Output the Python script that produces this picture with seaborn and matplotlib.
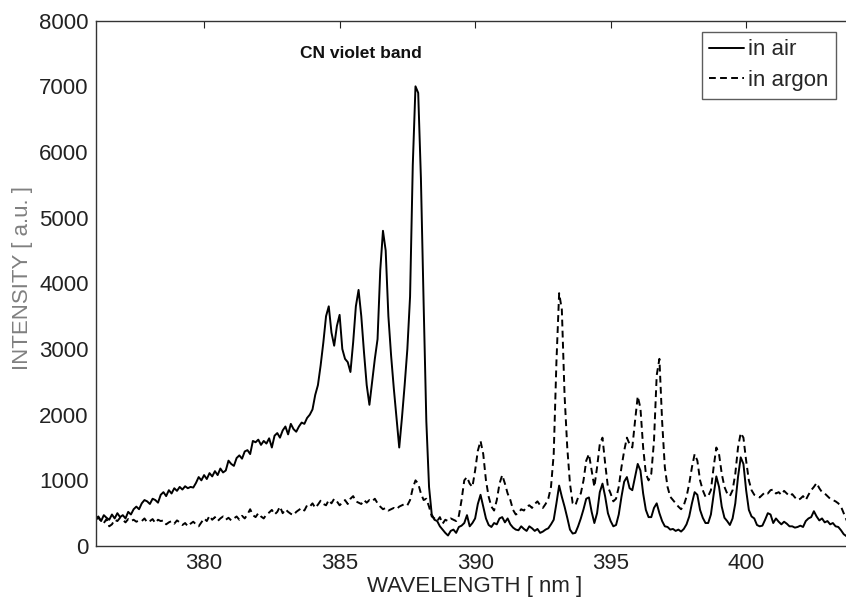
import numpy as np
import pandas as pd
import matplotlib
matplotlib.use("Agg")
import matplotlib.pyplot as plt
import seaborn as sns

# ---- data ----
wl_start = 376.0
wl_step = 0.1

air = [
    420, 450, 380, 470, 430, 400, 480, 420, 500, 440,        # 376
    470, 420, 520, 480, 560, 600, 560, 650, 700, 680,        # 377
    640, 720, 700, 660, 780, 820, 760, 850, 800, 880,        # 378
    840, 900, 860, 910, 880, 900, 890, 960, 1050, 1000,      # 379
    1080, 1020, 1110, 1060, 1140, 1080, 1180, 1120, 1150, 1300,  # 380
    1250, 1220, 1340, 1380, 1330, 1440, 1460, 1400, 1600, 1580,  # 381
    1620, 1540, 1600, 1560, 1640, 1500, 1680, 1720, 1650, 1760,  # 382
    1820, 1700, 1860, 1780, 1740, 1820, 1880, 1860, 1950, 2000,  # 383
    2080, 2300, 2450, 2750, 3100, 3500, 3650, 3250, 3050, 3350,  # 384
    3520, 3000, 2850, 2800, 2650, 3100, 3650, 3900, 3500, 2950,  # 385
    2450, 2150, 2500, 2850, 3150, 4200, 4800, 4500, 3500, 2900,  # 386
    2400, 1950, 1500, 1950, 2450, 3000, 3800, 5800, 7000, 6900,  # 387
    5600, 3700, 1900, 900, 480, 400, 380, 300, 250, 200,     # 388
    160, 230, 250, 200, 290, 310, 350, 470, 300, 350,        # 389
    420, 640, 780, 600, 420, 320, 290, 350, 330, 420,        # 390
    440, 360, 420, 330, 280, 250, 240, 300, 260, 230,        # 391
    300, 270, 230, 260, 200, 220, 250, 270, 330, 400,        # 392
    650, 920, 750, 600, 430, 250, 190, 200, 300, 420,        # 393
    560, 720, 740, 520, 350, 500, 820, 950, 750, 500,        # 394
    380, 300, 320, 480, 750, 980, 1050, 880, 850, 1050,      # 395
    1250, 1150, 800, 550, 440, 440, 580, 650, 500, 380,      # 396
    300, 290, 250, 260, 230, 250, 220, 260, 330, 450,        # 397
    650, 820, 780, 550, 430, 350, 350, 480, 780, 1060,       # 398
    900, 600, 430, 380, 320, 420, 650, 1050, 1350, 1250,     # 399
    850, 550, 450, 420, 320, 300, 310, 400, 500, 480,        # 400
    350, 420, 370, 330, 370, 340, 300, 300, 280, 290,        # 401
    310, 290, 380, 420, 440, 530, 450, 390, 420, 360,        # 402
    380, 330, 350, 300, 290, 240, 180, 150, 130,             # 403
]

argon = [
    400, 430, 380, 350, 410, 300, 330, 400, 380, 430,        # 376
    400, 360, 410, 380, 400, 370, 390, 380, 420, 360,        # 377
    380, 410, 350, 400, 380, 390, 330, 360, 380, 340,        # 378
    390, 360, 320, 350, 300, 340, 370, 330, 300, 360,        # 379
    420, 380, 460, 400, 440, 380, 420, 450, 400, 430,        # 380
    390, 420, 450, 400, 460, 420, 480, 560, 470, 440,        # 381
    500, 450, 420, 480, 510, 550, 480, 520, 600, 500,        # 382
    560, 520, 490, 470, 520, 550, 580, 540, 620, 600,        # 383
    650, 580, 630, 690, 640, 620, 700, 650, 720, 680,        # 384
    620, 660, 700, 640, 720, 760, 680, 660, 640, 700,        # 385
    660, 700, 680, 720, 650, 600, 560, 580, 540, 560,        # 386
    580, 560, 600, 620, 640, 620, 700, 880, 1000, 950,       # 387
    800, 700, 720, 600, 450, 420, 380, 440, 340, 400,        # 388
    380, 420, 400, 380, 460, 700, 1000, 1050, 950, 900,      # 389
    1150, 1450, 1600, 1400, 1000, 750, 600, 540, 700, 950,   # 390
    1080, 950, 800, 700, 550, 480, 500, 560, 540, 600,       # 391
    620, 580, 640, 680, 620, 580, 640, 720, 900, 1400,       # 392
    2800, 3850, 3600, 2300, 1500, 950, 650, 620, 740, 800,   # 393
    1000, 1300, 1400, 1150, 900, 1200, 1550, 1650, 1250, 900,  # 394
    800, 680, 720, 900, 1200, 1450, 1650, 1550, 1500, 1900,  # 395
    2280, 2100, 1500, 1100, 1000, 1100, 1600, 2600, 2850, 1900,  # 396
    1200, 900, 750, 700, 650, 600, 560, 620, 750, 950,       # 397
    1200, 1400, 1300, 1000, 850, 750, 760, 850, 1200, 1500,  # 398
    1400, 1100, 900, 800, 760, 850, 1100, 1500, 1720, 1650,  # 399
    1300, 1000, 850, 780, 760, 740, 780, 820, 800, 850,      # 400
    860, 800, 820, 780, 840, 800, 760, 790, 740, 700,        # 401
    720, 760, 700, 780, 850, 900, 960, 880, 820, 800,        # 402
    760, 720, 700, 680, 650, 600, 500, 400, 300,             # 403
]

series_names = ["in air", "in argon"]
xticks = [380, 385, 390, 395, 400]
yticks = [0, 1000, 2000, 3000, 4000, 5000, 6000, 7000, 8000]
annotation = "CN violet band"

wavelength = np.round(wl_start + wl_step * np.arange(len(air)), 2)

df = pd.DataFrame({
    "wavelength": np.concatenate([wavelength, wavelength]),
    "intensity": np.concatenate([air, argon]),
    "series": [series_names[0]] * len(air) + [series_names[1]] * len(argon),
})

# ---- style ----
sns.set_style("white")
plt.rcParams["font.family"] = ["Liberation Sans", "DejaVu Sans"]

fig = plt.figure(figsize=(8.46, 5.97), dpi=100)
ax = fig.add_axes([0.1131, 0.0854, 0.897, 0.880])

sns.lineplot(
    data=df, x="wavelength", y="intensity", style="series",
    style_order=series_names,
    dashes={series_names[0]: "", series_names[1]: (3.5, 2.2)},
    color="black", linewidth=1.4, ax=ax, legend=True,
)

ax.set_xlim(376.0, 404.0)
ax.set_ylim(0, 8000)
ax.set_xticks(xticks)
ax.set_yticks(yticks)
ax.tick_params(direction="in", length=5, width=0.8, top=True, right=True,
               labelsize=16, pad=5, colors="#222222")
for s in ax.spines.values():
    s.set_color("#333333")
    s.set_linewidth(1.0)

ax.set_xlabel("WAVELENGTH [ nm ]", fontsize=16, color="#222222")
ax.xaxis.set_label_coords(0.5, -0.057)
ax.set_ylabel("INTENSITY [ a.u. ]", fontsize=16, color="#808080")
ax.yaxis.set_label_coords(-0.0826, 0.511)

ax.text(385.8, 7500, annotation, ha="center", va="center",
        fontsize=12.5, fontweight="bold", color="#111111")

leg = ax.legend(loc="upper right", bbox_to_anchor=(0.976, 0.979),
                borderaxespad=0, fontsize=16, frameon=True, fancybox=False,
                handlelength=1.55, handletextpad=0.2, labelspacing=0.42,
                borderpad=0.35, title=None)
leg.get_frame().set_edgecolor("#333333")
leg.get_frame().set_linewidth(1.0)
for line in leg.get_lines():
    line.set_linewidth(1.4)

fig.savefig("out.png", dpi=100)
